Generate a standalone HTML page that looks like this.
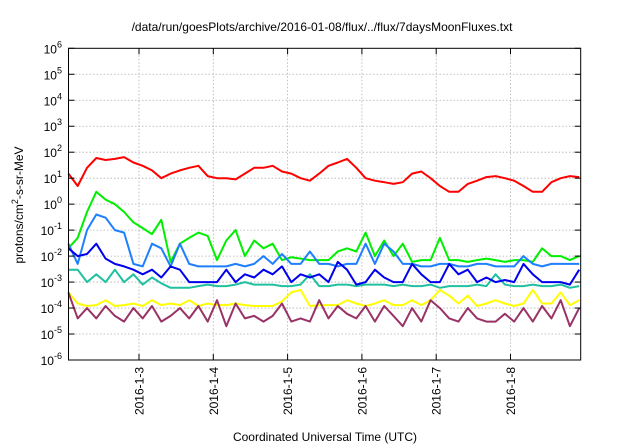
<!DOCTYPE html>
<html><head><meta charset="utf-8"><style>
html,body{margin:0;padding:0;background:#fff;}
svg{display:block;font-family:"Liberation Sans",Arial,sans-serif;}
</style></head><body>
<svg id="chart" width="640" height="448">
<text x="322" y="31" font-size="12" text-anchor="middle">/data/run/goesPlots/archive/2016-01-08/flux/../flux/7daysMoonFluxes.txt</text>
<text transform="translate(23,205) rotate(-90)" font-size="12" text-anchor="middle">protons/cm<tspan dy="-5" font-size="9">2</tspan><tspan dy="5">-s-sr-MeV</tspan></text>
<text x="325" y="441" font-size="12" text-anchor="middle">Coordinated Universal Time (UTC)</text>
<g id="grid"></g><g id="series"></g><g id="axes"></g>
</svg>
<script>
const dayTicks = [3,4,5,6,7,8];
const dayLabels = ["2016-1-3","2016-1-4","2016-1-5","2016-1-6","2016-1-7","2016-1-8"];
const yTickExps = [-6,-5,-4,-3,-2,-1,0,1,2,3,4,5,6];
const tStart = 2.05, tStep = 0.125;
const redVals = [15,5,25,60,50,55,65,40,30,20,10,15,20,25,30,12,10,10,9,15,25,25,30,18,15,10,8,15,30,40,55,25,10,8,7,6,7,15,18,10,5,3,3,6,8,11,12,10,8,5,3,3,7,10,12,11];
const greenVals = [0.02,0.05,0.5,3,1.5,1.0,0.5,0.2,0.12,0.07,0.25,0.006,0.03,0.05,0.08,0.06,0.007,0.04,0.1,0.01,0.04,0.02,0.03,0.007,0.009,0.008,0.007,0.007,0.007,0.015,0.02,0.015,0.08,0.01,0.04,0.01,0.03,0.006,0.007,0.007,0.05,0.007,0.007,0.006,0.007,0.008,0.007,0.006,0.007,0.007,0.006,0.02,0.01,0.01,0.007,0.01];
const lightBlueVals = [0.03,0.005,0.1,0.4,0.3,0.1,0.08,0.005,0.004,0.03,0.02,0.004,0.03,0.005,0.004,0.004,0.004,0.004,0.005,0.004,0.005,0.01,0.005,0.012,0.005,0.005,0.015,0.005,0.005,0.004,0.005,0.005,0.03,0.005,0.03,0.015,0.005,0.005,0.004,0.004,0.005,0.005,0.004,0.004,0.005,0.005,0.004,0.004,0.004,0.01,0.005,0.004,0.005,0.005,0.005,0.005];
const blueVals = [0.02,0.01,0.012,0.03,0.008,0.005,0.004,0.003,0.002,0.003,0.0015,0.004,0.003,0.001,0.001,0.001,0.001,0.003,0.001,0.002,0.0015,0.003,0.002,0.004,0.001,0.002,0.0015,0.002,0.001,0.006,0.003,0.0008,0.001,0.003,0.0015,0.001,0.001,0.005,0.002,0.001,0.001,0.005,0.002,0.003,0.001,0.0015,0.001,0.0012,0.001,0.005,0.002,0.001,0.001,0.001,0.0008,0.003];
const tealVals = [0.003,0.003,0.001,0.002,0.001,0.003,0.001,0.002,0.0008,0.0015,0.0009,0.0006,0.0006,0.0006,0.0007,0.0008,0.0007,0.0007,0.0008,0.001,0.0008,0.0008,0.0008,0.0007,0.0007,0.0008,0.002,0.0007,0.0007,0.0008,0.0008,0.0007,0.0008,0.0008,0.0008,0.0007,0.0008,0.0007,0.0007,0.0008,0.0006,0.0007,0.0007,0.0007,0.0008,0.0007,0.002,0.0008,0.0007,0.0007,0.0008,0.0007,0.0007,0.0008,0.0006,0.0007];
const yellowVals = [0.0004,0.00015,0.00012,0.00013,0.0002,0.00012,0.00013,0.00015,0.00012,0.0002,0.00013,0.00015,0.00013,0.0002,0.00012,0.00015,0.00013,0.00013,0.00015,0.00013,0.00012,0.00012,0.00012,0.00018,0.0004,0.0005,0.00012,0.00013,0.00013,0.00013,0.0002,0.00015,0.00012,0.00015,0.0002,0.00013,0.00013,0.0002,0.00013,0.0002,0.0005,0.0003,0.00015,0.0003,0.00012,0.00015,0.0002,0.00015,0.00012,0.00015,0.0005,0.00015,0.00015,0.0004,0.00013,0.0002];
const purpleVals = [0.0004,0.00004,0.0001,0.00004,0.00012,0.00005,0.00003,0.0001,0.00004,0.00012,0.00003,0.00005,0.0001,0.00004,0.00012,0.00003,0.0002,0.00002,0.00015,0.00004,0.00005,0.00003,0.00005,0.00015,0.00003,0.00004,0.00003,0.0002,0.00004,0.00012,0.00006,0.00004,0.00012,0.00003,0.00012,0.00005,0.00002,0.0001,0.00003,0.0002,0.0001,0.00004,0.00003,0.0001,0.00004,0.00003,0.00003,0.00006,0.00003,0.0001,0.00003,0.00012,0.00004,0.0002,0.00002,0.0001];

const L=68.5,R=580.7,T=48.3,B=360;
const dayPx=74.3, day3Px=139;
function xScale(t){return day3Px+(t-3)*dayPx;}
function yScale(v){return B-(Math.log10(v)+6)/12*(B-T);}
const NS="http://www.w3.org/2000/svg";
function mk(tag,attrs,parent){const e=document.createElementNS(NS,tag);for(const k in attrs)e.setAttribute(k,attrs[k]);parent.appendChild(e);return e;}
const grid=document.getElementById('grid'),axes=document.getElementById('axes'),ser=document.getElementById('series');
yTickExps.forEach(function(ex){
  const y=yScale(Math.pow(10,ex));
  if(ex>-6&&ex<6){const g=mk('line',{x1:L,x2:R,y1:y,y2:y,stroke:'#b0b0b0','stroke-width':0.8,'stroke-dasharray':'1.5,2'},grid);
  
  }
  mk('line',{x1:L,x2:L+6,y1:y,y2:y,stroke:'#000'},axes);
  mk('line',{x1:R-6,x2:R,y1:y,y2:y,stroke:'#000'},axes);
  const tx=mk('text',{x:62,y:y+5,'font-size':12,'text-anchor':'end'},axes);
  
  
  const base=mk('tspan',{},tx);base.textContent='10';
  const sp=mk('tspan',{dy:-6,'font-size':9},tx);sp.textContent=String(ex);
});
dayTicks.forEach(function(d,i){
  const x=xScale(d);
  const g=mk('line',{x1:x,x2:x,y1:T,y2:B,stroke:'#b0b0b0','stroke-width':0.8,'stroke-dasharray':'1.5,2'},grid);
  
  
  mk('line',{x1:x,x2:x,y1:B,y2:B-6,stroke:'#000'},axes);
  mk('line',{x1:x,x2:x,y1:T,y2:T+6,stroke:'#000'},axes);
  const tx=mk('text',{transform:'translate('+(x+4.5)+',367) rotate(-90)','font-size':12,'text-anchor':'end'},axes);
  
  
  tx.textContent=dayLabels[i];
});
const fr=mk('rect',{x:L,y:T,width:R-L,height:B-T,fill:'none',stroke:'#000','stroke-width':1},axes);


const seriesList=[[redVals,'#ff0000','series-red'],[greenVals,'#00ee00','series-green'],[lightBlueVals,'#1e7fff','series-light-blue'],[tealVals,'#20c0a0','series-teal'],[blueVals,'#0000ee','series-blue'],[yellowVals,'#ffff00','series-yellow'],[purpleVals,'#993366','series-purple']];
seriesList.forEach(function(s){
  const pts=s[0].map(function(v,i){return xScale(tStart+i*tStep).toFixed(1)+','+yScale(v).toFixed(1);}).join(' ');
  const p=mk('polyline',{points:pts,fill:'none',stroke:s[1],'stroke-width':2,'stroke-linejoin':'round'},ser);
  
  
});
</script>
</body></html>
